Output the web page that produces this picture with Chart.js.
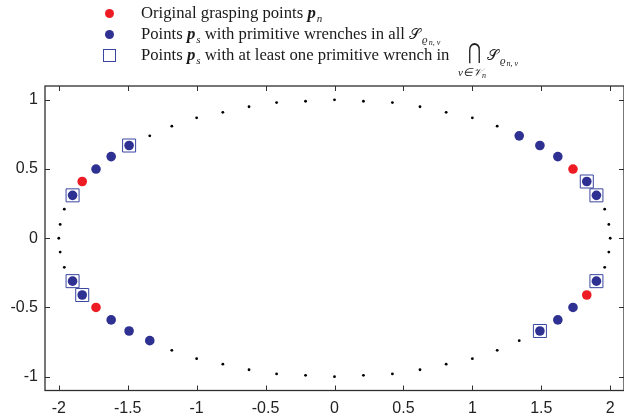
<!DOCTYPE html>
<html>
<head>
<meta charset="utf-8">
<script src="https://cdn.jsdelivr.net/npm/chart.js@4.4.1/dist/chart.umd.min.js"></script>
<style>
  html, body { margin:0; padding:0; background:#fff; overflow:hidden; width:624px; height:418px; }
  #wrap { position:relative; width:624px; height:418px; overflow:hidden; }
  canvas { position:absolute; left:0; top:0; }
  .lg { position:absolute; left:141px; font-family:'Liberation Serif','Times New Roman',serif; font-size:16.7px; line-height:20px; color:#1a1a1a; white-space:nowrap; }
  .bi { font-weight:bold; font-style:italic; }
  .sb { position:relative; top:4px; font-size:11px; font-style:italic; line-height:1px; margin-left:1px; }
  .sbs { position:relative; top:2px; font-size:8px; font-style:italic; line-height:1px; margin-left:1px; }
  .S { font-style:normal; font-family:'DejaVu Serif','Noto Sans',serif; font-size:15px; line-height:1px; }
  .op { position:absolute; left:464px; top:41.4px; width:20px; text-align:center; font-family:'DejaVu Serif',serif; font-size:22px; line-height:22px; color:#1a1a1a; transform:scaleX(0.72); }
  .under { position:absolute; left:452px; top:66.8px; width:40px; text-align:center; font-family:'Liberation Serif',serif; font-size:11px; font-style:italic; white-space:nowrap; line-height:11px; color:#1a1a1a; }
  .mk { position:absolute; }
</style>
</head>
<body>
<div id="wrap">
<canvas id="c" width="624" height="418"></canvas>
<div class="mk" style="left:104.8px;top:8.8px;width:9px;height:9px;border-radius:50%;background:#ed1c24;"></div>
<div class="mk" style="left:104.8px;top:29.5px;width:9px;height:9px;border-radius:50%;background:#2e3192;"></div>
<div class="mk" style="left:103px;top:48.5px;width:11px;height:11px;border:1px solid #3a46a0;"></div>
<div class="lg" style="top:3px;">Original grasping points <span class="bi">p</span><span class="sb">n</span></div>
<div class="lg" style="top:24px;">Points <span class="bi">p</span><span class="sb">s</span> with primitive wrenches in all <span class="S">𝒮</span><span class="sb">ϱ<span class="sbs">n, v</span></span></div>
<div class="lg" style="top:45px;">Points <span class="bi">p</span><span class="sb">s</span> with at least one primitive wrench in</div>
<div class="op">⋂</div>
<div class="under">v∈𝒱<span style="font-size:8px;position:relative;top:2px;">n</span></div>
<div class="lg" style="top:45px;left:487px;"><span class="S">𝒮</span><span class="sb">ϱ<span class="sbs">n, v</span></span></div>
</div>
<script>
// Boundary sample points (small black dots)
const ellipseX = [2.00,1.99,1.96,1.90,1.83,1.73,1.62,1.49,1.34,1.18,1.00,0.81,0.62,0.42,0.21,0.00,-0.21,-0.42,-0.62,-0.81,-1.00,-1.18,-1.34,-1.49,-1.62,-1.73,-1.83,-1.90,-1.96,-1.99,-2.00,-1.99,-1.96,-1.90,-1.83,-1.73,-1.62,-1.49,-1.34,-1.18,-1.00,-0.81,-0.62,-0.42,-0.21,0.00,0.21,0.42,0.62,0.81,1.00,1.18,1.34,1.49,1.62,1.73,1.83,1.90,1.96,1.99];
const ellipseY = [0.00,0.10,0.21,0.31,0.41,0.50,0.59,0.67,0.74,0.81,0.87,0.91,0.95,0.98,0.99,1.00,0.99,0.98,0.95,0.91,0.87,0.81,0.74,0.67,0.59,0.50,0.41,0.31,0.21,0.10,0.00,-0.10,-0.21,-0.31,-0.41,-0.50,-0.59,-0.67,-0.74,-0.81,-0.87,-0.91,-0.95,-0.98,-0.99,-1.00,-0.99,-0.98,-0.95,-0.91,-0.87,-0.81,-0.74,-0.67,-0.59,-0.50,-0.41,-0.31,-0.21,-0.10];
// Original grasping points (red)
const redX = [1.73,-1.83,-1.73,1.83];
const redY = [0.50,0.41,-0.50,-0.41];
// Points with primitive wrenches in all S (blue)
const blueX = [1.90,1.83,1.62,1.49,1.34,-1.49,-1.62,-1.73,-1.90,-1.90,-1.83,-1.62,-1.49,-1.34,1.49,1.62,1.73,1.90];
const blueY = [0.31,0.41,0.59,0.67,0.74,0.67,0.59,0.50,0.31,-0.31,-0.41,-0.59,-0.67,-0.74,-0.67,-0.59,-0.50,-0.31];
// Points with at least one primitive wrench in the intersection (squares)
const boxX = [1.90,1.83,-1.49,-1.90,-1.90,-1.83,1.49,1.90];
const boxY = [0.31,0.41,0.67,0.31,-0.31,-0.41,-0.67,-0.31];
// Axis ticks
const xTicks = [-2,-1.5,-1,-0.5,0,0.5,1,1.5,2];
const yTicks = [-1,-0.5,0,0.5,1];

const zip = (xs, ys) => xs.map((x, i) => ({x: x, y: ys[i]}));

const framePlugin = {
  id: 'frame',
  afterDraw(chart) {
    const {ctx, chartArea: a, scales} = chart;
    const sx = scales.x, sy = scales.y;
    ctx.save();
    ctx.strokeStyle = '#2f2f2f';
    ctx.lineWidth = 1.3;
    ctx.strokeRect(a.left, a.top, a.right - a.left, a.bottom - a.top);
    ctx.lineWidth = 1;
    ctx.beginPath();
    xTicks.forEach(v => {
      const p = Math.round(sx.getPixelForValue(v)) + 0.5;
      ctx.moveTo(p, a.bottom); ctx.lineTo(p, a.bottom - 5);
      ctx.moveTo(p, a.top); ctx.lineTo(p, a.top + 5);
    });
    yTicks.forEach(v => {
      const p = Math.round(sy.getPixelForValue(v)) + 0.5;
      ctx.moveTo(a.left, p); ctx.lineTo(a.left + 5, p);
      ctx.moveTo(a.right, p); ctx.lineTo(a.right - 5, p);
    });
    ctx.stroke();
    ctx.restore();
  }
};

const tickFont = {family: "'Liberation Sans', Arial, sans-serif", size: 16};

new Chart(document.getElementById('c'), {
  type: 'scatter',
  data: {
    datasets: [
      {label: 'box', data: zip(boxX, boxY), pointStyle: 'rect', pointRadius: 9.2, pointBackgroundColor: 'rgba(0,0,0,0)', pointBorderColor: '#3a46a0', pointBorderWidth: 1, order: 1},
      {label: 'blue', data: zip(blueX, blueY), pointRadius: 4.8, pointBackgroundColor: '#2e3192', pointBorderWidth: 0, order: 2},
      {label: 'red', data: zip(redX, redY), pointRadius: 4.8, pointBackgroundColor: '#ed1c24', pointBorderWidth: 0, order: 3},
      {label: 'dots', data: zip(ellipseX, ellipseY), pointRadius: 1.4, pointBackgroundColor: '#000', pointBorderWidth: 0, order: 4}
    ]
  },
  options: {
    responsive: false,
    maintainAspectRatio: false,
    animation: false,
    devicePixelRatio: 1,
    layout: {autoPadding: false, padding: {left: 0, top: 86, right: -1.5, bottom: 0}},
    plugins: {legend: {display: false}, tooltip: {enabled: false}},
    scales: {
      x: {
        type: 'linear', min: -2.1, max: 2.1,
        grid: {display: false, drawTicks: false},
        border: {display: false},
        afterBuildTicks: s => { s.ticks = xTicks.map(v => ({value: v})); },
        afterFit: s => { s.height = 27.5; s.paddingLeft = 0; s.paddingRight = 0; },
        ticks: {font: tickFont, color: '#222', padding: 8, maxRotation: 0, autoSkip: false, callback: v => String(v)}
      },
      y: {
        type: 'linear', min: -1.1, max: 1.1,
        grid: {display: false, drawTicks: false},
        border: {display: false},
        afterBuildTicks: s => { s.ticks = yTicks.map(v => ({value: v})); },
        afterFit: s => { s.width = 45; s.paddingTop = 0; s.paddingBottom = 0; },
        ticks: {font: tickFont, color: '#222', padding: 7, autoSkip: false, callback: v => String(v)}
      }
    }
  },
  plugins: [framePlugin]
});
</script>
</body>
</html>
